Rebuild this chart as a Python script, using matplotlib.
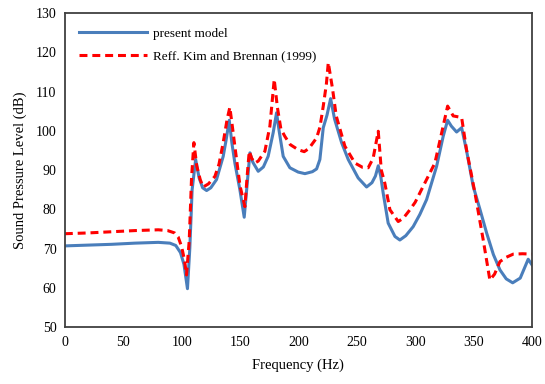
import matplotlib.pyplot as plt

# present model
model_freq = [0, 20, 40, 60, 80, 90, 95, 99, 102, 105, 107, 109, 112, 115, 118, 121.4,
              125, 129.9, 135.6, 138, 140.8, 143, 145.6, 149.9, 153.6, 156, 158.5, 161, 165.6,
              170, 174.1, 178.4, 181.3, 183.5, 187, 192.7, 199.8, 205.6, 212, 215.6, 218.4,
              221.3, 224.5, 227.6, 231, 237, 242.7, 251.2, 258.4, 263, 266, 268.4, 270.5,
              272.6, 276.9, 282.7, 286.9, 292, 298.3, 304, 309.8, 318.4, 324, 327.8, 331,
              335.5, 339.8, 344, 349.7, 355.5, 361.2, 367, 372.6, 378, 383.5, 390, 396.8, 400]
model_db = [70.7, 70.9, 71.1, 71.4, 71.6, 71.4, 70.8, 69, 66, 59.8, 70, 85, 92.7, 88, 85.5, 84.8,
            85.5, 87.6, 93.5, 97.5, 102.7, 97, 91.8, 85, 78, 86, 94.4, 92, 89.7,
            90.8, 93.5, 99.5, 104.6, 100, 93.5, 90.6, 89.5, 89.1, 89.6, 90.3, 92.7,
            100.8, 104, 108.2, 103, 97, 92.7, 88, 85.7, 86.8, 88.5, 91.1, 88.5,
            84.2, 76.5, 73.1, 72.2, 73.3, 75.6, 78.7, 82.5, 91, 98.6, 102.7, 101.2,
            99.7, 100.8, 95, 85.9, 80, 74, 68.5, 64.6, 62.3, 61.3, 62.5, 67.3, 65.9]

# Kim and Brennan (1999)
ref_freq = [0, 20, 40, 60, 80, 88, 94, 97, 100, 102.5, 104.2, 106.5, 108.5, 110.5, 113, 116,
            118.5, 123, 128.5, 132, 135.6, 139, 141.3, 143.5, 146.5, 150, 154.2, 156, 157.9,
            160, 162.7, 165.6, 171.3, 175.6, 179.3, 182, 185, 188.4, 193, 199.8, 205, 209,
            215.6, 218.5, 221.3, 224, 225.6, 229.3, 232.4, 239.8, 248.4, 255, 259.8, 264,
            268.4, 271, 274, 278.4, 285.5, 290, 295.5, 300, 306.9, 316.9, 322.7, 327.8,
            332.6, 339.8, 344, 351.2, 358.3, 364, 368, 372.6, 378, 384, 392, 400]
ref_db = [73.8, 74.0, 74.3, 74.6, 74.8, 74.6, 74.0, 73, 70.5, 67, 63.3, 72, 88, 97, 91, 87.5,
          85.7, 86.5, 88.4, 91.5, 97, 103, 106, 101, 94, 86, 80.7, 88, 94.8,
          93, 91.8, 92.3, 94.8, 101.2, 113.1, 106, 100.5, 98.6, 96.5, 95.2, 94.7, 95.5,
          98.2, 101, 106.3, 112, 117.4, 110.6, 103.8, 96.1, 91.8, 90.7, 90.6, 93,
          99.9, 90, 86.7, 79.9, 76.9, 77.8, 79.9, 81.8, 85.9, 91.8, 99.5, 106.3,
          103.8, 103.4, 95.2, 84.2, 72.2, 62, 63.5, 66.7, 67.8, 68.6, 68.7, 68.6]

plt.rcParams['font.family'] = ['Liberation Serif', 'DejaVu Serif']

fig = plt.figure(figsize=(5.45, 3.84), dpi=100)
ax = fig.add_axes([0.119, 0.148, 0.857, 0.818])

ax.plot(model_freq, model_db, color='#4A7EBB', linewidth=2.2, label='present model')
ax.plot(ref_freq, ref_db, color='#FF0000', linewidth=2.2, dashes=(2.6, 1.6),
        label='Reff. Kim and Brennan (1999)')

ax.set_xlim(0, 400)
ax.set_ylim(50, 130)
ax.set_xticks(range(0, 401, 50))
ax.set_yticks(range(50, 131, 10))
ax.tick_params(length=0, labelsize=10, pad=6)
for s in ax.spines.values():
    s.set_color('#404040')
    s.set_linewidth(1.3)

ax.set_xlabel('Frequency (Hz)', fontsize=10.5, labelpad=7)
ax.set_ylabel('Sound Pressure Level (dB)', fontsize=10.5, labelpad=6)

ax.legend(loc='upper left', frameon=False, fontsize=9.5, handlelength=5.1,
          handletextpad=0.5, borderaxespad=0.7, labelspacing=0.8)

fig.savefig('out.png', dpi=100)
